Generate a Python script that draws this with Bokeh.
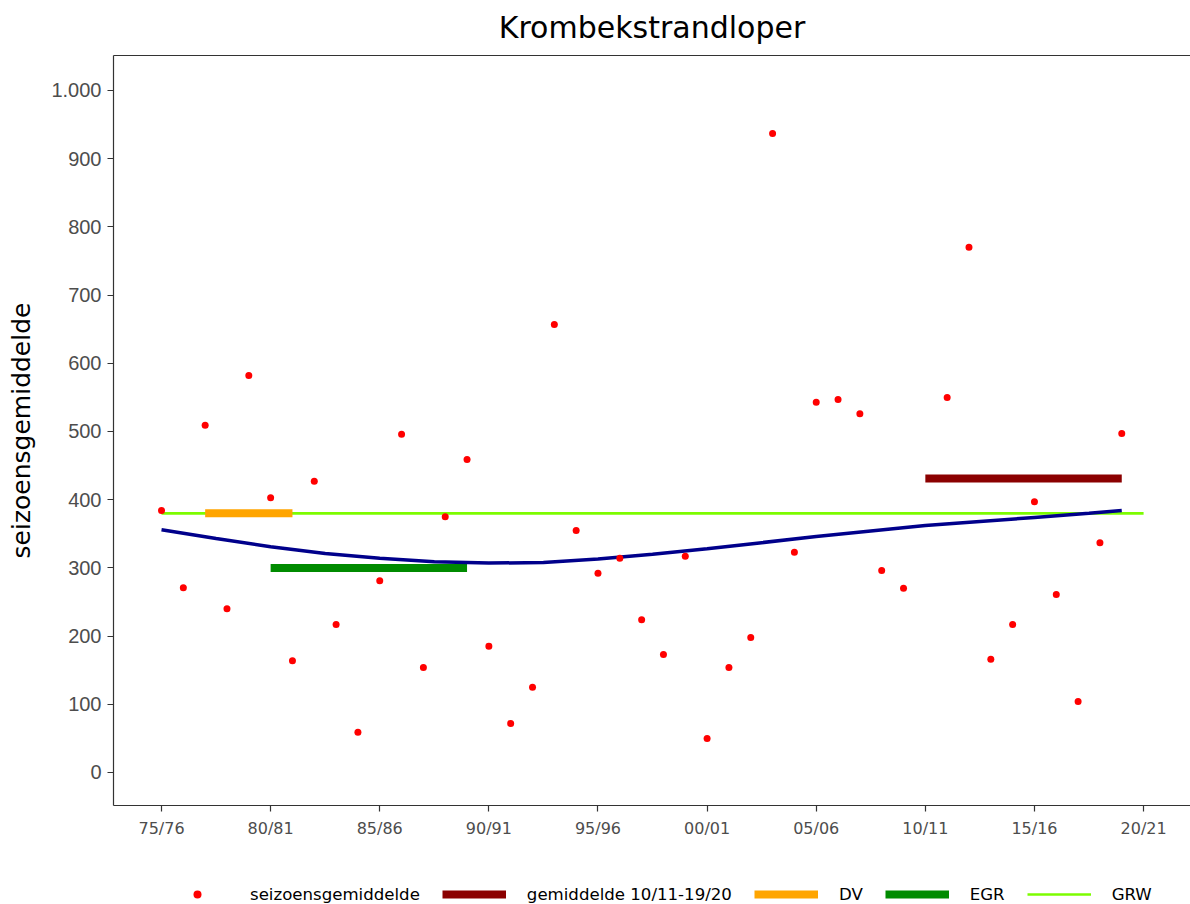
from bokeh.plotting import figure
from bokeh.layouts import column
from bokeh.models import Range1d, FixedTicker, LinearAxis, Legend, LegendItem
from bokeh.embed import file_html
from bokeh.resources import INLINE

# ---- data ----
season_start = [1975, 1976, 1977, 1978, 1979, 1980, 1981, 1982, 1983, 1984,
                1985, 1986, 1987, 1988, 1989, 1990, 1991, 1992, 1993, 1994,
                1995, 1996, 1997, 1998, 1999, 2000, 2001, 2002, 2003, 2004,
                2005, 2006, 2007, 2008, 2009, 2010, 2011, 2012, 2013, 2014,
                2015, 2016, 2017, 2018, 2019]
season_mean = [384, 271, 509, 240, 582, 403, 164, 427, 217, 59,
               281, 496, 154, 375, 459, 185, 72, 125, 657, 355,
               292, 314, 224, 173, 317, 50, 154, 198, 937, 323,
               543, 547, 526, 296, 270, float("nan"), 550, 770, 166, 217,
               397, 261, 104, 337, 497]

trend_x = [1975, 1977.5, 1980, 1982.5, 1985, 1987.5, 1990, 1992.5, 1995, 1997.5,
           2000, 2002.5, 2005, 2007.5, 2010, 2012.5, 2015, 2017.5, 2019]
trend_y = [356, 343, 331, 321, 314, 309, 307, 308, 313, 320,
           328, 337, 346, 354, 362, 368, 374, 380, 384]

avg_x = [2010, 2019]
avg_y = [431, 431]
dv_x = [1977, 1981]
dv_y = [380, 380]
egr_x = [1980, 1989]
egr_y = [300, 300]
grw_x = [1975, 2020]
grw_y = [380, 380]

x_ticks = [1975, 1980, 1985, 1990, 1995, 2000, 2005, 2010, 2015, 2020]
x_tick_labels = ["75/76", "80/81", "85/86", "90/91", "95/96",
                 "00/01", "05/06", "10/11", "15/16", "20/21"]
y_ticks = [0, 100, 200, 300, 400, 500, 600, 700, 800, 900, 1000]
y_tick_labels = ["0", "100", "200", "300", "400", "500",
                 "600", "700", "800", "900", "1.000"]

title_text = "Krombekstrandloper"
legend_labels = ["seizoensgemiddelde", "gemiddelde 10/11-19/20", "DV", "EGR", "GRW"]

# ---- styles ----
C_PTS, C_AVG, C_DV, C_EGR, C_GRW, C_TREND = "#FF0000", "#8B0000", "#FFA500", "#008B00", "#7CFC00", "#00008B"
axis_col = "#333333"


def strip(height):
    f = figure(width=1190, height=height, output_backend="svg", toolbar_location=None,
               x_range=Range1d(0, 1), y_range=Range1d(5000, 5001),
               x_axis_type=None, y_axis_type=None,
               min_border_left=0, min_border_right=0, min_border_top=0, min_border_bottom=0)
    f.outline_line_color = None
    f.background_fill_color = "white"
    f.border_fill_color = "white"
    return f


# ---- title strip ----
tp = strip(53)
tp.title.text = title_text
tp.title.align = "center"
tp.title.text_font = "DejaVu Sans"
tp.title.text_font_size = "30px"
tp.title.text_font_style = "normal"
tp.title.text_color = "#000000"
tp.title.standoff = 14

# ---- main figure ----
p = figure(width=1190, height=827, output_backend="svg", toolbar_location=None,
           x_range=Range1d(1972.8, 2022.15), y_range=Range1d(-48.4, 1051.3),
           min_border_left=113, min_border_right=0, min_border_top=2,
           min_border_bottom=75)
p.outline_line_color = None
p.xgrid.visible = False
p.ygrid.visible = False
p.background_fill_color = "white"
p.border_fill_color = "white"

p.yaxis.ticker = FixedTicker(ticks=y_ticks)
p.yaxis.major_label_overrides = {t: l for t, l in zip(y_ticks, y_tick_labels)}
p.yaxis.axis_label = "seizoensgemiddelde"
p.yaxis.axis_label_text_font = "DejaVu Sans"
p.yaxis.axis_label_text_font_size = "25px"
p.yaxis.axis_label_text_font_style = "normal"
p.yaxis.axis_label_text_color = "#000000"
p.yaxis.axis_label_standoff = 12
p.yaxis.major_label_text_font = "Liberation Sans"
p.yaxis.major_label_text_font_size = "20px"
p.yaxis.major_label_text_color = "#4D4D4D"
p.yaxis.major_label_standoff = 6

p.xaxis.ticker = FixedTicker(ticks=x_ticks)
p.xaxis.major_label_overrides = {t: l for t, l in zip(x_ticks, x_tick_labels)}
p.xaxis.major_label_text_font = "DejaVu Sans"
p.xaxis.major_label_text_font_size = "16px"
p.xaxis.major_label_text_color = "#4D4D4D"
p.xaxis.major_label_standoff = 7

for ax in (p.xaxis, p.yaxis):
    ax.axis_line_color = axis_col
    ax.axis_line_width = 1.2
    ax.major_tick_line_color = axis_col
    ax.major_tick_line_width = 1.2
    ax.major_tick_in = 0
    ax.major_tick_out = 6
    ax.minor_tick_line_color = None

top = LinearAxis(ticker=FixedTicker(ticks=[]), major_label_text_font_size="0px",
                 major_tick_line_color=None, minor_tick_line_color=None,
                 axis_line_color=axis_col, axis_line_width=1.2,
                 major_tick_in=0, major_tick_out=0, major_label_standoff=0)
p.add_layout(top, "above")


def draw(fig):
    r_grw = fig.line(grw_x, grw_y, line_color=C_GRW, line_width=2.7)
    r_dv = fig.line(dv_x, dv_y, line_color=C_DV, line_width=8)
    r_egr = fig.line(egr_x, egr_y, line_color=C_EGR, line_width=8)
    r_avg = fig.line(avg_x, avg_y, line_color=C_AVG, line_width=8)
    fig.line(trend_x, trend_y, line_color=C_TREND, line_width=3.5)
    r_pts = fig.scatter(season_start, season_mean, size=7, color=C_PTS, line_width=0)
    return [r_pts, r_avg, r_dv, r_egr, r_grw]


draw(p)

# ---- legend strip (same glyphs, outside its visible range; only the legend shows) ----
lp = strip(24)
leg_renderers = draw(lp)
legend = Legend(items=[LegendItem(label=lab, renderers=[r]) for lab, r in zip(legend_labels, leg_renderers)],
                orientation="horizontal", location=(52, 0), glyph_width=64, glyph_height=20,
                label_standoff=21, spacing=22, padding=0, margin=0, border_line_color=None,
                background_fill_alpha=0, label_text_font="DejaVu Sans",
                label_text_font_size="16.6px", label_text_color="#000000")
lp.add_layout(legend)

layout = column(tp, p, lp, spacing=0)
open("out.html", "w").write(file_html(layout, INLINE))
